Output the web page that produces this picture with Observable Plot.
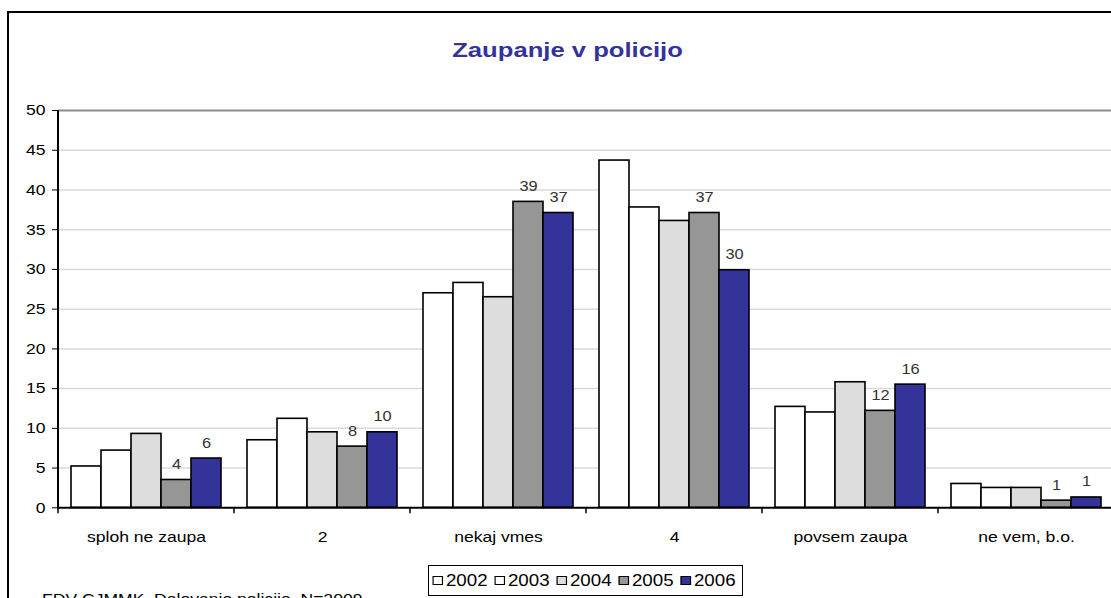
<!DOCTYPE html>
<html>
<head>
<meta charset="utf-8">
<script src="https://cdn.jsdelivr.net/npm/d3@7"></script>
<script src="https://cdn.jsdelivr.net/npm/@observablehq/plot@0.6"></script>
<style>
html,body{margin:0;padding:0;background:#fff;overflow:hidden;width:1111px;height:598px;}
body{font-family:"Liberation Sans",Arial,Helvetica,sans-serif;position:relative;}
#frame{position:absolute;left:7px;top:11px;width:1200px;height:700px;border:2px solid #000;box-sizing:border-box;}
#title{position:absolute;left:0;top:39px;width:1135px;text-align:center;font-size:21px;line-height:21px;font-weight:bold;color:#333399;white-space:nowrap;}
#title span{display:inline-block;transform:scaleX(1.22);transform-origin:center;}
#chart{position:absolute;left:0;top:0;}
#legend{position:absolute;left:428px;top:565px;width:315px;height:31px;border:1px solid #000;box-sizing:border-box;background:#fff;overflow:hidden;}
#legend .inner{display:flex;align-items:center;height:100%;transform-origin:left center;white-space:nowrap;}
#legend .sw{display:inline-block;width:8.5px;height:9px;border:1.5px solid #000;box-sizing:border-box;margin-right:2.6px;}
#legend .lb{font-size:16px;line-height:16px;margin-right:6.3px;}
#caption{position:absolute;left:42px;top:591px;font-size:15px;line-height:15px;white-space:nowrap;transform-origin:left top;}
</style>
</head>
<body>
<div id="frame"></div>
<div id="title"><span></span></div>
<div id="chart"></div>
<div id="legend"><div class="inner"></div></div>
<div id="caption"></div>
<script>
const S = 1.17;
const titleText = "Zaupanje v policijo";
const captionText = "FDV-CJMMK, Delovanje policije, N=2009";
const categories = ["sploh ne zaupa", "2", "nekaj vmes", "4", "povsem zaupa", "ne vem, b.o."];
const years = ["2002", "2003", "2004", "2005", "2006"];
const colors = ["#ffffff", "#ffffff", "#dddddd", "#969696", "#333399"];
const v2002 = [5.2, 8.5, 27.0, 43.7, 12.7, 3.0];
const v2003 = [7.2, 11.2, 28.3, 37.8, 12.0, 2.5];
const v2004 = [9.3, 9.5, 26.5, 36.1, 15.8, 2.5];
const v2005 = [3.5, 7.7, 38.5, 37.1, 12.2, 0.9];
const v2006 = [6.2, 9.5, 37.1, 29.9, 15.5, 1.3];
const labelYears = ["2005", "2006"];
const yTicks = [0, 5, 10, 15, 20, 25, 30, 35, 40, 45, 50];

const series = [v2002, v2003, v2004, v2005, v2006];
const data = [];
years.forEach((yr, j) => categories.forEach((c, i) => data.push({cat: c, year: yr, value: series[j][i]})));

document.querySelector("#title span").textContent = titleText;
const cap = document.getElementById("caption");
cap.textContent = captionText;
cap.style.transform = `scaleX(${S})`;

const chart = Plot.plot({
  width: 1111,
  height: 560,
  marginTop: 110,
  marginBottom: 52.7,
  marginLeft: 58,
  marginRight: 0,
  style: {fontFamily: '"Liberation Sans", Arial, sans-serif', fontSize: "15px", color: "#000", background: "transparent"},
  fx: {domain: categories, range: [58, 1114], padding: 0, label: null, tickSize: 0, tickPadding: 24, axis: "bottom"},
  x: {domain: years, paddingInner: 0, paddingOuter: 0.395, axis: null},
  y: {domain: [0, 50], ticks: yTicks, tickSize: 6, tickPadding: 7, label: null},
  color: {domain: years, range: colors},
  marks: [
    Plot.ruleY(yTicks.filter(t => t > 0 && t < 50), {stroke: "#d9d9d9", strokeWidth: 1.5}),
    Plot.ruleY([50], {stroke: "#8c8c8c", strokeWidth: 2}),
    Plot.barY(data, {fx: "cat", x: "year", y: "value", fill: "year", stroke: "#000", strokeWidth: 1.6}),
    Plot.ruleY([0], {stroke: "#000", strokeWidth: 2}),
    Plot.text(data.filter(d => labelYears.includes(d.year)), {
      fx: "cat", x: "year", y: "value",
      text: d => String(Math.round(d.value)),
      dy: -11, lineAnchor: "bottom", fill: "#333", fontSize: 14
    })
  ]
});
document.getElementById("chart").appendChild(chart);

// axis decorations from the plot's own scales
const svg = d3.select(chart);
const fxS = chart.scale("fx"), yS = chart.scale("y");
const fxb = d3.scaleBand(fxS.domain, fxS.range).paddingInner(fxS.paddingInner || 0).paddingOuter(fxS.paddingOuter || 0);
const yl = d3.scaleLinear(yS.domain, yS.range);
const y0 = yl(0), y50 = yl(50);
const bounds = categories.map(c => fxb(c)).concat([fxb(categories[categories.length - 1]) + fxb.bandwidth()]);
const g = svg.append("g").attr("stroke", "#000");
g.append("line").attr("x1", bounds[0]).attr("x2", bounds[0]).attr("y1", y0 + 1).attr("y2", y50).attr("stroke-width", 2);
g.selectAll("line.bt").data(bounds).join("line").attr("class", "bt")
  .attr("x1", d => d).attr("x2", d => d).attr("y1", y0).attr("y2", y0 + 6).attr("stroke-width", 1.5);

// horizontal text stretch to match reference
svg.selectAll("text").each(function () {
  const L = this.getComputedTextLength();
  if (L > 0) { this.setAttribute("textLength", L * S); this.setAttribute("lengthAdjust", "spacingAndGlyphs"); }
});

// legend
const inner = d3.select("#legend .inner").style("transform", `scaleX(${S})`).style("padding-left", "3.4px");
years.forEach((yr, j) => {
  inner.append("span").attr("class", "sw").style("background", colors[j]);
  inner.append("span").attr("class", "lb").text(yr);
});
</script>
</body>
</html>
